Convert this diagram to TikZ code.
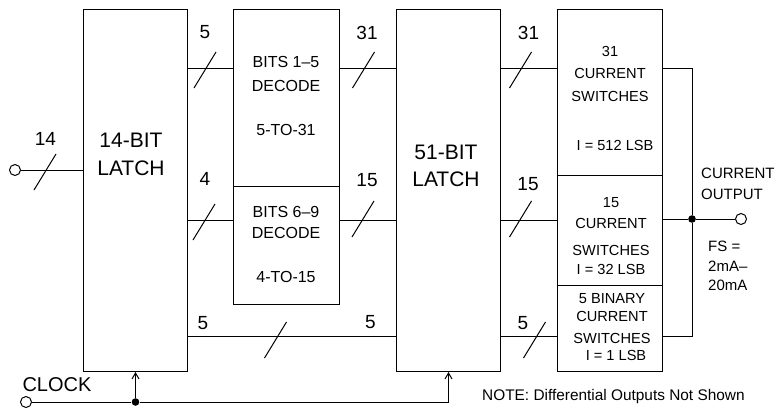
\documentclass[tikz,border=0pt]{standalone}
\usepackage{fontspec}
\setmainfont{Liberation Sans}
\usetikzlibrary{arrows.meta}

\begin{document}
\begin{tikzpicture}[x=0.5pt,y=-0.5pt,line width=0.5pt,
  blk/.style={draw,anchor=north west,inner sep=0pt},
  big/.style={font=\fontsize{10.5}{14}\selectfont,align=center},
  lbl/.style={font=\fontsize{9.5}{11}\selectfont},
  mid/.style={font=\fontsize{8}{12}\selectfont,align=center},
  sml/.style={font=\fontsize{7.3}{11}\selectfont,align=center},
  port/.style={circle,draw,fill=white,inner sep=0pt,minimum size=5.5pt},
  dot/.style={circle,fill,inner sep=0pt,minimum size=3.8pt},
  bus/.pic={\draw (-11,18) -- (11,-18);},
  >={Straight Barb[length=3pt,width=3.5pt]}]
\useasboundingbox (0,0) rectangle (780,407);

% rows of the buses
\coordinate (rowA) at (0,68);
\coordinate (rowB) at (0,220);
\coordinate (rowC) at (0,336);

% blocks
\node[blk,minimum width=52pt,minimum height=181pt] (latchA) at (83,9) {};
\node[blk,minimum width=53pt,minimum height=88.5pt] (decA) at (233,9) {};
\node[blk,minimum width=53pt,minimum height=59pt] (decB) at (233,186) {};
\node[blk,minimum width=52pt,minimum height=181pt] (latchB) at (396,9) {};
\node[blk,minimum width=52.5pt,minimum height=83pt] (swA) at (557,9) {};
\node[blk,minimum width=52.5pt,minimum height=55pt] (swB) at (557,175) {};
\node[blk,minimum width=52.5pt,minimum height=43pt] (swC) at (557,285) {};

\node[big] (tLatchA) at (131,154) {14-BIT\\LATCH};
\node[big,font=\fontsize{10.5}{13.5}\selectfont] (tLatchB) at (446,166) {51-BIT\\LATCH};
\node[mid] (tDecA) at (286,96) {BITS 1–5\\DECODE\\[10pt]5-TO-31};
\node[mid,font=\fontsize{8}{10.5}\selectfont] (tDecB) at (286,244.5) {BITS 6–9\\DECODE\\[11.5pt]4-TO-15};
\node[sml] (tSwA) at (610,98) {31\\CURRENT\\[0.5pt]SWITCHES\\[13.5pt]\hspace*{5pt}I = 512 LSB};
\node[sml] (tSwB) at (611,236) {15\\[-0.3pt]CURRENT\\[2.5pt]SWITCHES\\[-1.5pt]I = 32 LSB};
\node[sml,font=\fontsize{7.3}{9}\selectfont] (tSwC) at (612,327.5) {5 BINARY\\CURRENT\\[2pt]SWITCHES\\[-0.5pt]\hspace*{4pt}I = 1 LSB};

% input and clock
\node[port] (inA) at (15,170) {};
\node[port] (clkIn) at (26,402) {};
\node[lbl,font=\fontsize{10}{12}\selectfont] (tClk) at (57,384.5) {CLOCK};
\node[dot] (clkDot) at (latchA.south |- clkIn) {};

\draw (inA) -- (inA -| latchA.west);
\pic at (45,172) {bus};
\node[lbl] (n14) at (45.5,138.5) {14};

\draw (clkIn) -- (clkDot);
\draw[->] (clkDot) -- (latchA.south);
\draw[->] (clkDot) -| (latchB.south);

% latch to decoders
\draw (latchA.east |- rowA) -- (decA.west |- rowA);
\pic at (205,70) {bus};
\node[lbl] (n5a) at (205,32.5) {5};
\draw (latchA.east |- rowB) -- (decB.west |- rowB);
\pic at (204,222) {bus};
\node[lbl] (n4) at (205,179) {4};
\draw (latchA.east |- rowC) -- (latchB.west |- rowC);
\pic at (275.5,340) {bus};
\node[lbl] (n5b) at (203,323) {5};
\node[lbl] (n5c) at (370.5,322) {5};

% decoders to latch
\draw (decA.east |- rowA) -- (latchB.west |- rowA);
\pic at (363.5,70) {bus};
\node[lbl] (n31a) at (367,32.5) {31};
\draw (decB.east |- rowB) -- (latchB.west |- rowB);
\pic at (363,219) {bus};
\node[lbl] (n15a) at (367,180) {15};

% latch to switches
\draw (latchB.east |- rowA) -- (swA.west |- rowA);
\pic at (520.5,70) {bus};
\node[lbl] (n31b) at (528.5,32.5) {31};
\draw (latchB.east |- rowB) -- (swB.west |- rowB);
\pic at (520.5,219) {bus};
\node[lbl] (n15b) at (528,184) {15};
\draw (latchB.east |- rowC) -- (swC.west |- rowC);
\pic at (534.5,340) {bus};
\node[lbl] (n5d) at (523,323) {5};

% current output
\node[dot] (join) at (692,219) {};
\node[port] (outC) at (741,219) {};
\draw (swA.east |- rowA) -| (join) |- (swC.east |- rowC);
\draw (swB.east |- join) -- (join) -- (outC);
\node[sml,anchor=west,align=left,font=\fontsize{7.5}{10.5}\selectfont] (tOut) at (694,184) {CURRENT\\OUTPUT};
\node[sml,anchor=west,align=left,font=\fontsize{7.5}{9.8}\selectfont] (tFS) at (701,266) {FS =\\2mA–\\20mA};

\node[sml,anchor=west,font=\fontsize{7.7}{9}\selectfont] (tNote) at (475,397) {NOTE: Differential Outputs Not Shown};
\end{tikzpicture}
\end{document}
